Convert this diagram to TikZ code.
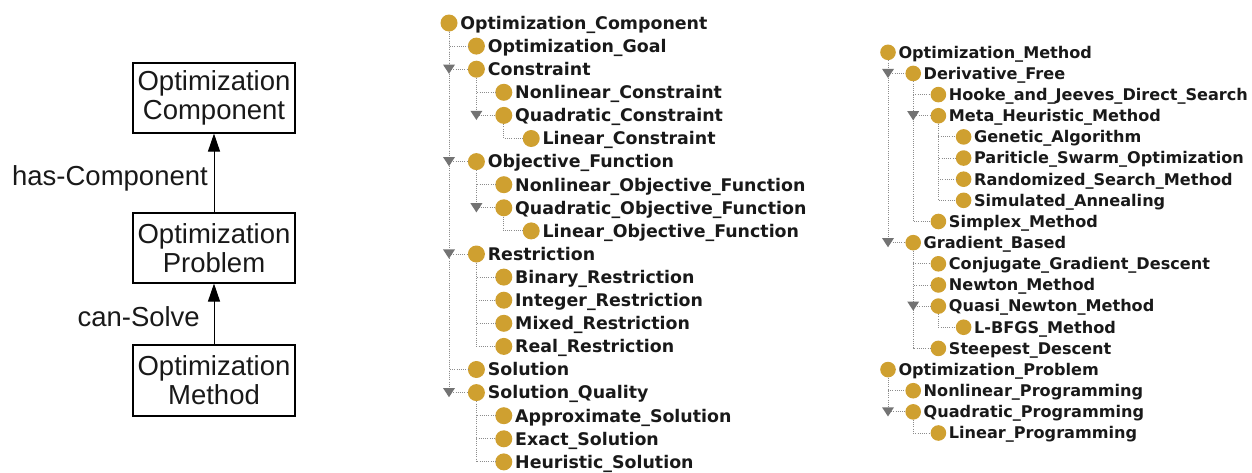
\documentclass[tikz,border=0pt]{standalone}
\usepackage{fontspec}
\setmainfont{Liberation Sans}
\newfontfamily\treefont{DejaVu Sans}
\usetikzlibrary{arrows.meta}
\definecolor{classgold}{RGB}{207,160,48}
\definecolor{treegray}{RGB}{140,140,140}
\definecolor{trigray}{RGB}{115,115,115}
\definecolor{inkc}{RGB}{25,25,25}
\newcommand\itemA[4]{\node[dotA] (#1) at (#2,#3) {};\node[txtA] (#1t) at ([xshift=2.5pt]#1.east) {#4};}
\newcommand\itemB[4]{\node[dotB] (#1) at (#2,#3) {};\node[txtB] (#1t) at ([xshift=2.3pt]#1.east) {#4};}
\begin{document}
\begin{tikzpicture}[x=1pt,y=-1pt,
  box/.style={draw, line width=1.1pt, minimum width=162pt, minimum height=70pt, align=center, inner sep=0pt, font=\fontsize{27.5}{29}\selectfont, text=inkc},
  rel/.style={-{Triangle[length=18pt,width=12pt]}, line width=1pt},
  rellabel/.style={anchor=east, inner sep=0pt, font=\fontsize{27.5}{29}\selectfont, text=inkc},
  dotA/.style={circle, fill=classgold, minimum size=17pt, inner sep=0pt},
  dotB/.style={circle, fill=classgold, minimum size=15.6pt, inner sep=0pt},
  txtA/.style={anchor=west, inner sep=0pt, text height=12.7pt, text depth=0pt, font=\treefont\bfseries\fontsize{17.4}{20}\selectfont, text=inkc},
  txtB/.style={anchor=west, inner sep=0pt, text height=11.75pt, text depth=0pt, font=\treefont\bfseries\fontsize{16.1}{19}\selectfont, text=inkc},
  treeline/.style={draw=treegray, line width=0.9pt, dash pattern=on 1pt off 1.2pt},
  expander/.pic={\fill[trigray] (-6,-4.6) -- (6,-4.6) -- (0,4.6) -- cycle;}
]
\useasboundingbox (0,0) rectangle (1252,472);

% ---- left diagram ----
\node[box] (comp) at (214,98) {Optimization\\Component};
\node[box] (prob) at (214,248) {Optimization\\Problem};
\node[box, minimum height=71pt] (meth) at (214,380.5) {Optimization\\Method};
\draw[rel] (prob) -- (comp);
\draw[rel] (meth) -- (prob);
\node[rellabel] (hasc) at (208,178) {has-Component};
\node[rellabel] (cans) at (200,317) {can-Solve};

% ---- middle tree ----
\itemA{oc}{449}{23.0}{Optimization\_Component}
\itemA{og}{476.4}{46.1}{Optimization\_Goal}
\itemA{con}{476.4}{69.2}{Constraint}
\itemA{nlc}{503.8}{92.3}{Nonlinear\_Constraint}
\itemA{qc}{503.8}{115.4}{Quadratic\_Constraint}
\itemA{lc}{531.2}{138.5}{Linear\_Constraint}
\itemA{obj}{476.4}{161.6}{Objective\_Function}
\itemA{nlo}{503.8}{184.7}{Nonlinear\_Objective\_Function}
\itemA{qo}{503.8}{207.8}{Quadratic\_Objective\_Function}
\itemA{lo}{531.2}{230.9}{Linear\_Objective\_Function}
\itemA{res}{476.4}{254.0}{Restriction}
\itemA{br}{503.8}{277.1}{Binary\_Restriction}
\itemA{ir}{503.8}{300.2}{Integer\_Restriction}
\itemA{mr}{503.8}{323.3}{Mixed\_Restriction}
\itemA{rr}{503.8}{346.4}{Real\_Restriction}
\itemA{sol}{476.4}{369.5}{Solution}
\itemA{sq}{476.4}{392.6}{Solution\_Quality}
\itemA{as}{503.8}{415.7}{Approximate\_Solution}
\itemA{es}{503.8}{438.8}{Exact\_Solution}
\itemA{hs}{503.8}{461.9}{Heuristic\_Solution}

\foreach \p/\c in {oc/og,oc/con,oc/obj,oc/res,oc/sol,oc/sq,
  con/nlc,con/qc,qc/lc,obj/nlo,obj/qo,qo/lo,
  res/br,res/ir,res/mr,res/rr,sq/as,sq/es,sq/hs}
  \draw[treeline] (\p) |- (\c);
\foreach \p/\c in {oc/con,con/qc,oc/obj,obj/qo,oc/res,oc/sq}
  \pic at (\p |- \c) {expander};

% ---- right tree ----
\itemB{om}{888}{52.3}{Optimization\_Method}
\itemB{df}{913.2}{73.45}{Derivative\_Free}
\itemB{hj}{938.4}{94.6}{Hooke\_and\_Jeeves\_Direct\_Search}
\itemB{mh}{938.4}{115.75}{Meta\_Heuristic\_Method}
\itemB{ga}{963.6}{136.9}{Genetic\_Algorithm}
\itemB{ps}{963.6}{158.05}{Pariticle\_Swarm\_Optimization}
\itemB{rs}{963.6}{179.2}{Randomized\_Search\_Method}
\itemB{sa}{963.6}{200.35}{Simulated\_Annealing}
\itemB{sm}{938.4}{221.5}{Simplex\_Method}
\itemB{gb}{913.2}{242.65}{Gradient\_Based}
\itemB{cg}{938.4}{263.8}{Conjugate\_Gradient\_Descent}
\itemB{nm}{938.4}{284.95}{Newton\_Method}
\itemB{qn}{938.4}{306.1}{Quasi\_Newton\_Method}
\itemB{lb}{963.6}{327.25}{L-BFGS\_Method}
\itemB{st}{938.4}{348.4}{Steepest\_Descent}
\itemB{op}{888}{369.55}{Optimization\_Problem}
\itemB{np}{913.2}{390.7}{Nonlinear\_Programming}
\itemB{qp}{913.2}{411.85}{Quadratic\_Programming}
\itemB{lp}{938.4}{433.0}{Linear\_Programming}

\foreach \p/\c in {om/df,om/gb,df/hj,df/mh,df/sm,mh/ga,mh/ps,mh/rs,mh/sa,
  gb/cg,gb/nm,gb/qn,gb/st,qn/lb,op/np,op/qp,qp/lp}
  \draw[treeline] (\p) |- (\c);
\foreach \p/\c in {om/df,df/mh,om/gb,gb/qn,op/qp}
  \pic at (\p |- \c) {expander};
\end{tikzpicture}
\end{document}
